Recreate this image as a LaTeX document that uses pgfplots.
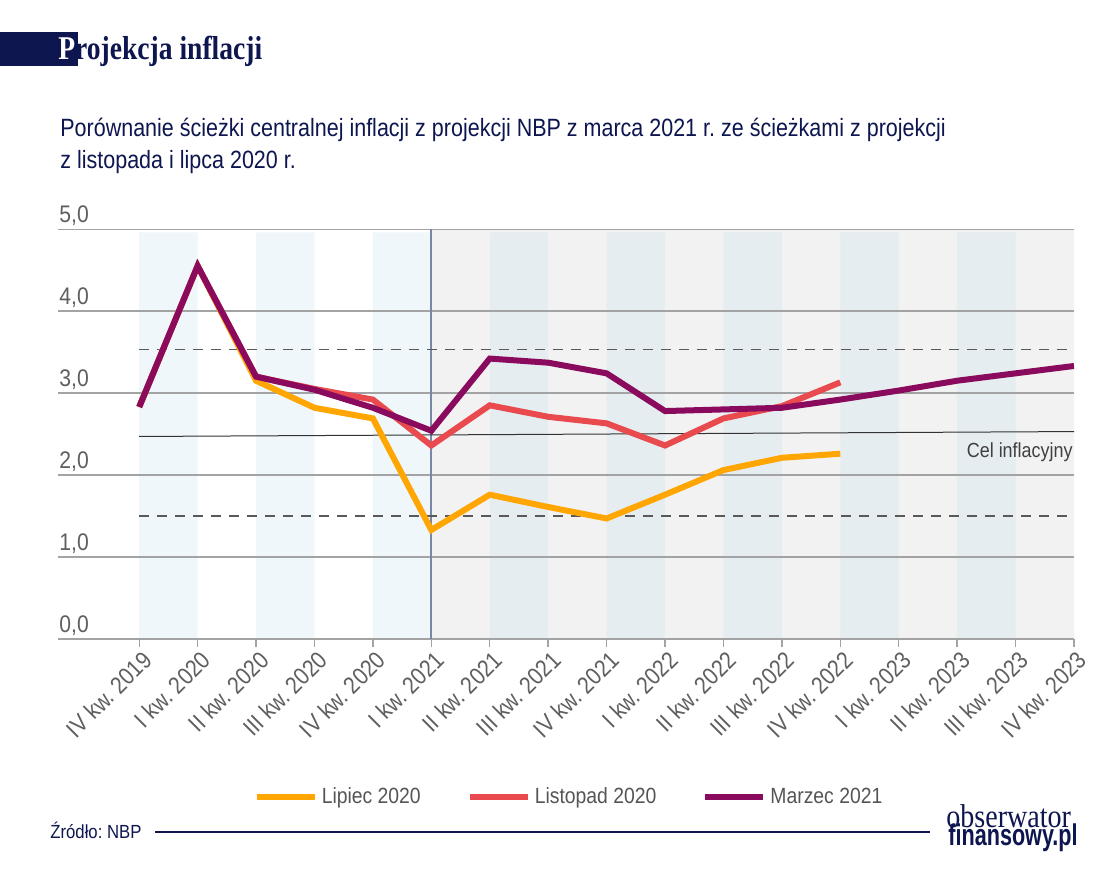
\documentclass[border=0pt]{standalone}
\usepackage{fontspec}
\setmainfont{Liberation Sans}[FakeStretch=0.88]
\newfontfamily\titlefont{Liberation Serif}[FakeStretch=0.83]
\newfontfamily\logoserif{Liberation Serif}[FakeStretch=0.85]
\newfontfamily\subfont{Liberation Sans}[FakeStretch=0.86]
\newfontfamily\logofont{Liberation Sans}[FakeStretch=0.72]
\usepackage{pgfplots}
\usepackage{pgfplotstable}
\pgfplotsset{compat=1.18}
\frenchspacing
\definecolor{navy}{HTML}{0E1650}
\definecolor{gridgray}{HTML}{A3A3A3}
\definecolor{tickgray}{HTML}{5F5F5F}
\definecolor{legendgray}{HTML}{555555}
\definecolor{cOrange}{HTML}{FFA602}
\definecolor{cRed}{HTML}{E84A4E}
\definecolor{cPurple}{HTML}{8A0A5E}
\definecolor{bgGray}{HTML}{F2F2F2}
\definecolor{stripeL}{HTML}{EFF7FB}
\definecolor{stripeR}{HTML}{E6EDF1}
\definecolor{vline}{HTML}{7986A6}

\pgfplotstableread{
x y
0 2.83
1 4.55
2 3.15
3 2.82
4 2.69
5 1.33
6 1.76
7 1.61
8 1.47
9 1.76
10 2.06
11 2.21
12 2.26
}\lipiec
\pgfplotstableread{
x y
0 2.83
1 4.55
2 3.20
3 3.05
4 2.92
5 2.36
6 2.85
7 2.71
8 2.63
9 2.36
10 2.69
11 2.84
12 3.13
}\listopad
\pgfplotstableread{
x y
0 2.83
1 4.55
2 3.20
3 3.04
4 2.82
5 2.54
6 3.42
7 3.37
8 3.24
9 2.78
10 2.80
11 2.82
12 2.92
13 3.03
14 3.15
15 3.24
16 3.33
}\marzec

\begin{document}
\begin{tikzpicture}
\fill[white] (0,0) rectangle (560pt,-440pt);
\begin{axis}[
  at={(29pt,-319.5pt)}, anchor=south west,
  scale only axis, width=508pt, height=205pt,
  xmin=-1.39, xmax=16, ymin=0, ymax=5,
  axis line style={draw=none},
  ytick={0,1,...,5},
  y tick style={draw=none},
  yticklabel style={anchor=base west, inner sep=0pt, xshift=4.5pt, yshift=3.5pt, text=tickgray, font=\fontsize{12pt}{14pt}\selectfont, /pgf/number format/.cd, fixed, fixed zerofill, precision=1, use comma, assume math mode=true},
  xtick={0,...,16},
  xticklabels={IV kw. 2019, I kw. 2020, II kw. 2020, III kw. 2020, IV kw. 2020, I kw. 2021, II kw. 2021, III kw. 2021, IV kw. 2021, I kw. 2022, II kw. 2022, III kw. 2022, IV kw. 2022, I kw. 2023, II kw. 2023, III kw. 2023, IV kw. 2023},
  xtick pos=lower, ytick pos=left,
  tick align=outside,
  x tick style={color=gridgray, line width=0.7pt},
  major tick length=4pt,
  xticklabel style={xshift=1pt, yshift=-1pt, rotate=45, anchor=north east, inner sep=0pt, text=tickgray, font=\fontsize{12pt}{14pt}\selectfont},
  legend style={at={(0.504,-0.385)}, anchor=center, draw=none, fill=none,
    legend columns=3, font=\fontsize{11pt}{13pt}\selectfont, text=legendgray,
    /tikz/every even column/.append style={column sep=21pt}},
  legend image code/.code={\draw[#1, line width=3pt] (0pt,0pt) -- (29pt,0pt);},
]
\addplot[fill=bgGray, draw=none, forget plot] coordinates {(5,0) (5,5) (16,5) (16,0)} \closedcycle;
\addplot[fill=stripeL, draw=none, forget plot] coordinates {(0,0) (0,4.96) (1,4.96) (1,0)} \closedcycle;
\addplot[fill=stripeL, draw=none, forget plot] coordinates {(2,0) (2,4.96) (3,4.96) (3,0)} \closedcycle;
\addplot[fill=stripeL, draw=none, forget plot] coordinates {(4,0) (4,4.96) (5,4.96) (5,0)} \closedcycle;
\addplot[fill=stripeR, draw=none, forget plot] coordinates {(6,0) (6,4.96) (7,4.96) (7,0)} \closedcycle;
\addplot[fill=stripeR, draw=none, forget plot] coordinates {(8,0) (8,4.96) (9,4.96) (9,0)} \closedcycle;
\addplot[fill=stripeR, draw=none, forget plot] coordinates {(10,0) (10,4.96) (11,4.96) (11,0)} \closedcycle;
\addplot[fill=stripeR, draw=none, forget plot] coordinates {(12,0) (12,4.96) (13,4.96) (13,0)} \closedcycle;
\addplot[fill=stripeR, draw=none, forget plot] coordinates {(14,0) (14,4.96) (15,4.96) (15,0)} \closedcycle;
\pgfplotsinvokeforeach{0,1,2,3,4,5}{
  \addplot[gridgray, line width=0.7pt, forget plot] coordinates {(-1.39,#1) (16,#1)};
}
\addplot[vline, line width=0.9pt, forget plot] coordinates {(5,0) (5,5)};
\addplot[black!65, line width=0.6pt, dash pattern=on 5pt off 4pt, forget plot] coordinates {(0,3.53) (16,3.53)};
\addplot[black!65, line width=0.6pt, dash pattern=on 5pt off 4pt, forget plot] coordinates {(0,1.5) (16,1.5)};
\addplot[black!80, line width=0.5pt, forget plot] coordinates {(0,2.47) (16,2.53)};
\addplot[cOrange, line width=3pt] table[x=x,y=y] {\lipiec};
\addlegendentry{Lipiec 2020}
\addplot[cRed, line width=3pt] table[x=x,y=y] {\listopad};
\addlegendentry{Listopad 2020}
\addplot[cPurple, line width=3pt] table[x=x,y=y] {\marzec};
\addlegendentry{Marzec 2021}
\end{axis}
\begin{scope}[x=0.5pt,y=-0.5pt]
\fill[navy] (0,32) rectangle (78,66);
\node[anchor=base west, inner sep=0pt, font=\titlefont\bfseries\fontsize{16.6pt}{18pt}\selectfont, text=navy] at (58,59) {\textcolor{white}{P}rojekcja inflacji};
\node[anchor=base west, inner sep=0pt, font=\subfont\fontsize{12.5pt}{14pt}\selectfont, text=navy] at (60,136) {Porównanie ścieżki centralnej inflacji z projekcji NBP z marca 2021 r. ze ścieżkami z projekcji};
\node[anchor=base west, inner sep=0pt, font=\subfont\fontsize{12.5pt}{14pt}\selectfont, text=navy] at (60,168) {z listopada i lipca 2020 r.};
\node[anchor=base east, inner sep=0pt, font=\fontsize{10.2pt}{12pt}\selectfont, text=black!75] at (1073,457) {Cel inflacyjny};
\node[anchor=base west, inner sep=0pt, font=\fontsize{9.5pt}{11pt}\selectfont, text=navy] at (50,838) {Źródło: NBP};
\draw[navy, line width=0.6pt] (155,832) -- (930,832);
\node[anchor=base west, inner sep=0pt, font=\logoserif\fontsize{16.5pt}{18pt}\selectfont, text=navy] at (946,827) {obserwator};
\node[anchor=base west, inner sep=0pt, font=\logofont\bfseries\fontsize{15pt}{17pt}\selectfont, text=navy] at (948,845) {finansowy.pl};
\end{scope}
\pgfresetboundingbox
\useasboundingbox (0,0) rectangle (560pt,-440pt);
\end{tikzpicture}
\end{document}
